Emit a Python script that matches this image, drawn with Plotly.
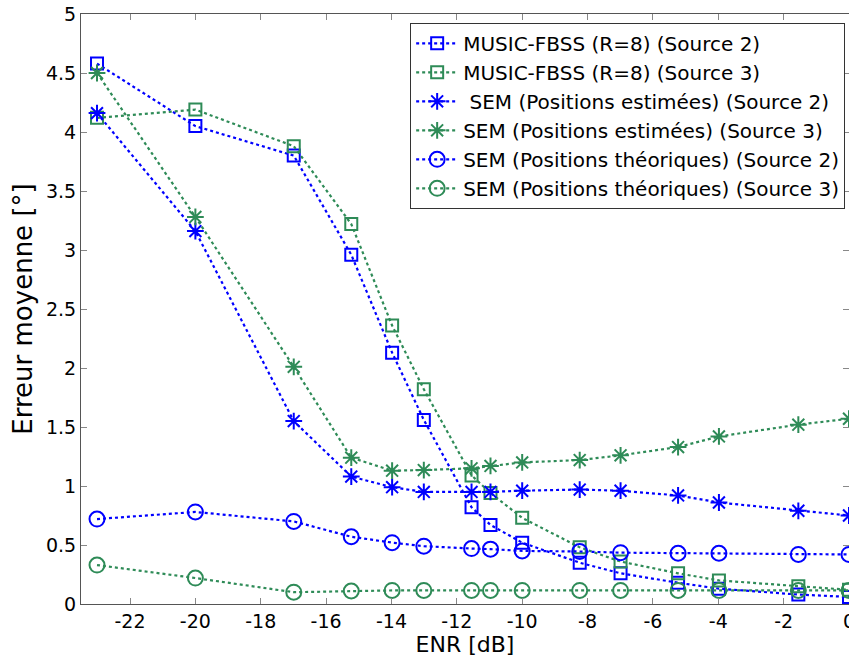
import plotly.graph_objects as go

enr = [-23.01, -20.0, -16.99, -15.23, -13.98, -13.01, -11.55, -10.97, -10.0, -8.24, -6.99, -5.23, -3.98, -1.55, 0.0]

music_s2 = [4.58, 4.05, 3.80, 2.96, 2.13, 1.56, 0.82, 0.67, 0.52, 0.35, 0.26, 0.18, 0.13, 0.08, 0.06]
music_s3 = [4.12, 4.19, 3.88, 3.22, 2.36, 1.82, 1.09, 0.94, 0.73, 0.48, 0.36, 0.26, 0.20, 0.15, 0.12]
sem_est_s2 = [4.16, 3.16, 1.55, 1.08, 0.99, 0.95, 0.95, 0.95, 0.96, 0.97, 0.96, 0.92, 0.86, 0.79, 0.75]
sem_est_s3 = [4.50, 3.28, 2.01, 1.24, 1.13, 1.135, 1.15, 1.17, 1.20, 1.22, 1.26, 1.33, 1.42, 1.52, 1.57]
sem_th_s2 = [0.72, 0.78, 0.70, 0.57, 0.52, 0.49, 0.47, 0.465, 0.45, 0.445, 0.435, 0.43, 0.43, 0.42, 0.42]
sem_th_s3 = [0.33, 0.22, 0.10, 0.11, 0.115, 0.115, 0.115, 0.115, 0.115, 0.115, 0.115, 0.115, 0.115, 0.115, 0.115]

names = [
    "MUSIC-FBSS (R=8) (Source 2)",
    "MUSIC-FBSS (R=8) (Source 3)",
    " SEM (Positions estimées) (Source 2)",
    "SEM (Positions estimées) (Source 3)",
    "SEM (Positions théoriques) (Source 2)",
    "SEM (Positions théoriques) (Source 3)",
]

BLUE = "#0000FF"
GREEN = "#2E8B57"
FONT = "DejaVu Sans"

series = [
    (music_s2, BLUE, "square-open", 12),
    (music_s3, GREEN, "square-open", 12),
    (sem_est_s2, BLUE, "asterisk-open", 14),
    (sem_est_s3, GREEN, "asterisk-open", 14),
    (sem_th_s2, BLUE, "circle-open", 15),
    (sem_th_s3, GREEN, "circle-open", 15),
]

fig = go.Figure()
for name, (ys, col, sym, sz) in zip(names, series):
    fig.add_trace(go.Scatter(
        x=enr, y=ys, name=name, mode="lines+markers",
        line=dict(color=col, width=2.2, dash="dot"),
        marker=dict(symbol=sym, size=sz, color=col, line=dict(color=col, width=2)),
        cliponaxis=False,
    ))

axis_common = dict(
    showgrid=False, zeroline=False, showline=True, linecolor="#555555", linewidth=1,
    mirror="ticks", ticks="inside", ticklen=6, tickcolor="#888888",
    tickfont=dict(family=FONT, size=19, color="black"),
    ticklabeloverflow="allow", automargin=False,
)

fig.update_xaxes(
    range=[-23.5, 0], tickvals=[-22, -20, -18, -16, -14, -12, -10, -8, -6, -4, -2, 0],
    ticktext=["-22", "-20", "-18", "-16", "-14", "-12", "-10", "-8", "-6", "-4", "-2", "0"],
    title=dict(text="ENR [dB]", font=dict(family=FONT, size=22, color="black"), standoff=2),
    **axis_common,
)
fig.update_yaxes(
    range=[0, 5], tickvals=[0, 0.5, 1, 1.5, 2, 2.5, 3, 3.5, 4, 4.5, 5],
    ticktext=["0", "0.5", "1", "1.5", "2", "2.5", "3", "3.5", "4", "4.5", "5"],
    title=dict(text="Erreur moyenne [°]", font=dict(family=FONT, size=26, color="black"), standoff=5),
    **axis_common,
)

fig.update_layout(
    width=849, height=661,
    margin=dict(l=81, r=0, t=14, b=57),
    plot_bgcolor="white", paper_bgcolor="white",
    showlegend=True,
    legend=dict(
        x=0.995, y=0.985, xanchor="right", yanchor="top",
        bgcolor="white", bordercolor="#333333", borderwidth=1,
        font=dict(family=FONT, size=20, color="black"),
        tracegroupgap=0, itemwidth=42,
    ),
)

fig.write_html("out.html")
